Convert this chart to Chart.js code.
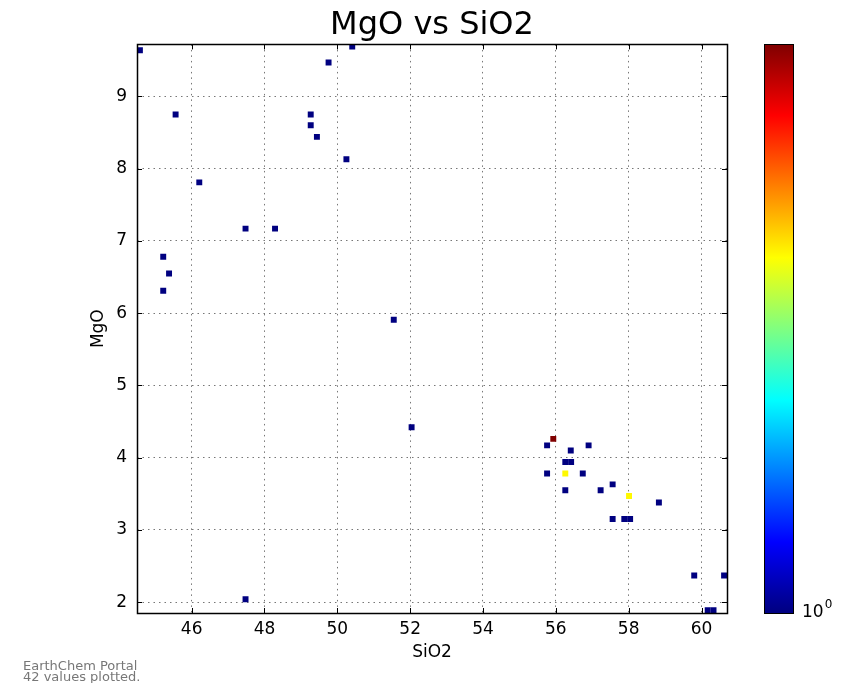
<!DOCTYPE html>
<html>
<head>
<meta charset="utf-8">
<title>MgO vs SiO2</title>
<script src="https://cdn.jsdelivr.net/npm/chart.js@4.4.1/dist/chart.umd.min.js"></script>
<style>
  html, body { margin: 0; padding: 0; background: #fff; }
  #wrap { width: 845px; height: 683px; }
</style>
</head>
<body>
<div id="wrap"><canvas id="chart" width="845" height="683"></canvas></div>
<script>
// binned points (cell centres), with how many samples fall in each cell
const sio2 = [44.58, 45.56, 46.21, 45.22, 45.38, 45.22, 47.48, 48.29, 49.27, 49.27,
              49.44, 49.76, 50.41, 50.25, 51.55, 52.04, 47.48,
              55.93, 55.76, 56.41, 56.90, 56.26, 56.42, 55.76, 56.26, 56.74,
              57.56, 56.26, 57.23, 58.01, 58.83, 57.56, 57.88, 58.04,
              59.80, 60.62, 60.17, 60.33];
const mgo = [9.64, 8.75, 7.81, 6.78, 6.55, 6.31, 7.17, 7.17, 8.75, 8.60,
             8.44, 9.47, 9.69, 8.13, 5.91, 4.42, 2.04,
             4.26, 4.17, 4.10, 4.17, 3.94, 3.94, 3.78, 3.78, 3.78,
             3.63, 3.55, 3.55, 3.47, 3.38, 3.15, 3.15, 3.15,
             2.37, 2.37, 1.89, 1.89];
const counts = [1, 1, 1, 1, 1, 1, 1, 1, 1, 1,
                1, 1, 1, 1, 1, 1, 1,
                3, 1, 1, 1, 1, 1, 1, 2, 1,
                1, 1, 1, 2, 1, 1, 1, 1,
                1, 1, 1, 1];

const xTicks = [46, 48, 50, 52, 54, 56, 58, 60];
const yTicks = [2, 3, 4, 5, 6, 7, 8, 9];
const xRange = [44.5, 60.7];
const yRange = [1.85, 9.72];
const countMax = 3;

const FONT = "'DejaVu Sans', 'Liberation Sans', sans-serif";

function jet(t) {
  const clamp = v => Math.max(0, Math.min(1, v));
  const r = clamp(Math.min(4 * t - 1.5, -4 * t + 4.5));
  const g = clamp(Math.min(4 * t - 0.5, -4 * t + 3.5));
  const b = clamp(Math.min(4 * t + 0.5, -4 * t + 2.5));
  return `rgb(${Math.round(r * 255)},${Math.round(g * 255)},${Math.round(b * 255)})`;
}

// box round the plot + inward tick marks like matplotlib
const frame = {
  id: 'frame',
  afterDatasetsDraw(chart) {
    const { ctx, chartArea: a, scales } = chart;
    ctx.save();
    ctx.strokeStyle = '#000';
    ctx.lineWidth = 1;
    ctx.setLineDash([]);
    ctx.beginPath();
    xTicks.forEach(v => {
      const px = Math.round(scales.x.getPixelForValue(v)) + 0.5;
      ctx.moveTo(px, a.bottom); ctx.lineTo(px, a.bottom - 5);
      ctx.moveTo(px, a.top); ctx.lineTo(px, a.top + 5);
    });
    yTicks.forEach(v => {
      const py = Math.round(scales.y.getPixelForValue(v)) + 0.5;
      ctx.moveTo(a.left, py); ctx.lineTo(a.left + 5, py);
      ctx.moveTo(a.right, py); ctx.lineTo(a.right - 5, py);
    });
    ctx.stroke();
    ctx.lineWidth = 1.5;
    ctx.strokeRect(Math.round(a.left) + 0.5, Math.round(a.top) + 0.5,
                   Math.round(a.right - a.left), Math.round(a.bottom - a.top));
    ctx.restore();
  }
};

const colorbar = {
  id: 'colorbar',
  afterDraw(chart) {
    const { ctx, chartArea: a } = chart;
    const x0 = Math.round(a.right) + 37, w = 29;
    const g = ctx.createLinearGradient(0, a.bottom, 0, a.top);
    for (let i = 0; i <= 32; i++) g.addColorStop(i / 32, jet(i / 32));
    ctx.save();
    ctx.fillStyle = g;
    ctx.fillRect(x0, a.top, w, a.bottom - a.top);
    ctx.strokeStyle = '#000';
    ctx.lineWidth = 1;
    ctx.strokeRect(x0 + 0.5, Math.round(a.top) + 0.5, w, Math.round(a.bottom - a.top));
    // log colour scale label
    ctx.fillStyle = '#000';
    ctx.textBaseline = 'alphabetic';
    ctx.font = `17px ${FONT}`;
    ctx.fillText('10', x0 + w + 9, a.bottom + 4);
    const tw = ctx.measureText('10').width;
    ctx.font = `12px ${FONT}`;
    ctx.fillText('0', x0 + w + 10 + tw, a.bottom - 5);

    // footer note
    ctx.fillStyle = '#777';
    ctx.font = `13px ${FONT}`;
    ctx.fillText('EarthChem Portal', 23, 670);
    ctx.fillText('42 values plotted.', 23, 681);
    ctx.restore();
  }
};

const tickFont = { family: FONT, size: 17 };

new Chart(document.getElementById('chart'), {
  type: 'scatter',
  data: {
    datasets: [{
      data: sio2.map((x, i) => ({ x: x, y: mgo[i] })),
      pointStyle: 'rect',
      pointRadius: 4.2,
      pointHoverRadius: 4.2,
      pointBorderWidth: 0,
      pointBackgroundColor: counts.map(c => jet(Math.log(c) / Math.log(countMax)))
    }]
  },
  options: {
    responsive: false,
    animation: false,
    devicePixelRatio: 1,
    layout: { padding: { left: 84, right: 118, top: 0, bottom: 16 } },
    plugins: {
      legend: { display: false },
      tooltip: { enabled: false },
      title: {
        display: true,
        text: 'MgO vs SiO2',
        fullSize: false,
        color: '#000',
        font: { family: FONT, size: 32, weight: 'normal' },
        padding: { top: 6, bottom: 0 }
      }
    },
    scales: {
      x: {
        type: 'linear',
        min: xRange[0],
        max: xRange[1],
        afterBuildTicks: s => { s.ticks = xTicks.map(v => ({ value: v })); },
        afterFit: s => { s.height = 54; },
        ticks: { color: '#000', font: tickFont, padding: 6, autoSkip: false, maxRotation: 0 },
        grid: { color: '#777', lineWidth: 1, drawTicks: false },
        border: { display: false, dash: [1.5, 4] },
        title: { display: true, text: 'SiO2', color: '#000', font: tickFont, padding: { top: 0, bottom: 4 } }
      },
      y: {
        type: 'linear',
        min: yRange[0],
        max: yRange[1],
        afterBuildTicks: s => { s.ticks = yTicks.map(v => ({ value: v })); },
        afterFit: s => { s.width = 53; },
        ticks: { color: '#000', font: tickFont, padding: 10, autoSkip: false },
        grid: { color: '#777', lineWidth: 1, drawTicks: false },
        border: { display: false, dash: [1.5, 4] },
        title: { display: true, text: 'MgO', color: '#000', font: tickFont, padding: { top: 4, bottom: 0 } }
      }
    }
  },
  plugins: [frame, colorbar]
});
</script>
</body>
</html>
